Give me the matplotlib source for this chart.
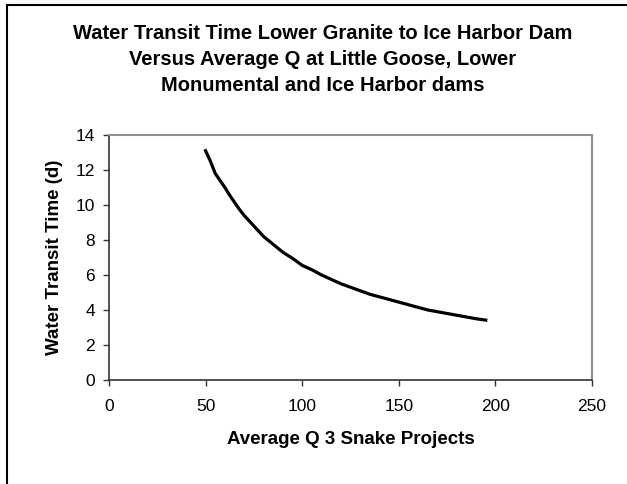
import numpy as np
import matplotlib.pyplot as plt
from matplotlib.patches import Rectangle

plt.rcParams['font.family'] = ['Liberation Sans', 'DejaVu Sans']

# average Q (3 Snake projects) and transit time
avg_q = [50, 52.5, 55, 57.5, 60, 62.5, 65, 67.5, 70, 72.5, 75, 77.5, 80, 85, 90, 95,
         100, 105, 110, 115, 120, 125, 130, 135, 140, 145, 150, 155, 160, 165,
         170, 175, 180, 185, 190, 195]
transit_days = [13.1, 12.5, 11.8, 11.4, 11.0, 10.55, 10.15, 9.75, 9.4, 9.1, 8.8, 8.5, 8.2, 7.75,
                7.3, 6.95, 6.55, 6.3, 6.0, 5.75, 5.5, 5.3, 5.1, 4.9, 4.75, 4.6, 4.45,
                4.3, 4.15, 4.0, 3.9, 3.8, 3.7, 3.6, 3.5, 3.42]

fig = plt.figure(figsize=(6.27, 4.84), dpi=100)
ax = fig.add_axes([0.1738, 0.2149, 0.7704, 0.5062])

ax.plot(avg_q, transit_days, color='black', lw=2.3, solid_joinstyle='round')

ax.set_xlim(0, 250)
ax.set_ylim(0, 14)
ax.set_xticks(np.arange(0, 251, 50))
ax.set_yticks(np.arange(0, 15, 2))
ax.tick_params(labelsize=12.5, direction='out', length=4, width=1, color='#333333')
ax.tick_params(axis='x', pad=10)
ax.tick_params(axis='y', pad=6)

for s in ['left', 'bottom']:
    ax.spines[s].set_color('#333333')
    ax.spines[s].set_linewidth(1.2)
for s in ['top', 'right']:
    ax.spines[s].set_color('#909090')
    ax.spines[s].set_linewidth(1.5)

ax.set_xlabel('Average Q 3 Snake Projects', fontsize=13.5, fontweight='bold', labelpad=12)
ax.set_ylabel('Water Transit Time (d)', fontsize=13.5, fontweight='bold', labelpad=9)

fig.text(0.514, 0.951, 'Water Transit Time Lower Granite to Ice Harbor Dam\n'
         'Versus Average Q at Little Goose, Lower\n'
         'Monumental and Ice Harbor dams',
         ha='center', va='top', fontsize=14.5, fontweight='bold', linespacing=1.47)

# chart area border
fig.patches.append(Rectangle((0.011, -0.02), 1.1, 1.01, transform=fig.transFigure,
                             fill=False, edgecolor='black', lw=1.5))

fig.savefig('out.png', dpi=100)
